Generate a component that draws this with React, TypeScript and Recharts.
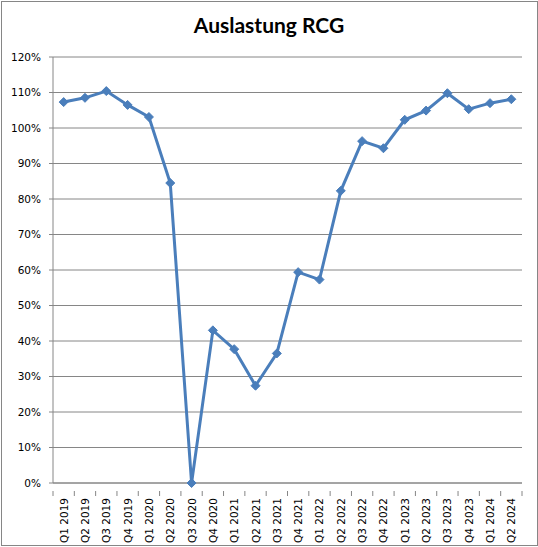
import { LineChart, Line, XAxis, YAxis, CartesianGrid } from 'recharts';

const quarters = [
    'Q1 2019', 'Q2 2019', 'Q3 2019', 'Q4 2019',
    'Q1 2020', 'Q2 2020', 'Q3 2020', 'Q4 2020',
    'Q1 2021', 'Q2 2021', 'Q3 2021', 'Q4 2021',
    'Q1 2022', 'Q2 2022', 'Q3 2022', 'Q4 2022',
    'Q1 2023', 'Q2 2023', 'Q3 2023', 'Q4 2023',
    'Q1 2024', 'Q2 2024',
];

const auslastung = [
    107.3, 108.5, 110.4, 106.5,
    103.1, 84.5, 0, 43.0,
    37.7, 27.4, 36.5, 59.4,
    57.3, 82.3, 96.3, 94.3,
    102.3, 104.9, 109.8, 105.3,
    107.0, 108.1,
];

const yTicks = [0, 10, 20, 30, 40, 50, 60, 70, 80, 90, 100, 110, 120];

const data = quarters.map((q, i) => ({ quarter: q, value: auslastung[i] }));

const AXIS_GRAY = '#868686';
const BLUE = '#4a7ebb';
const FONT = '"DejaVu Sans", sans-serif';

// plot spans x 53..522, so one category band is this wide
const BAND = (522 - 53) / quarters.length;

const QuarterTick = ({ x, y, payload, index }: any) => {
    const isLast = index === quarters.length - 1;
    return (
        <g>
            <line x1={x - BAND / 2} y1={y} x2={x - BAND / 2} y2={y + 5} stroke={AXIS_GRAY} />
            {isLast && (
                <line x1={x + BAND / 2} y1={y} x2={x + BAND / 2} y2={y + 5} stroke={AXIS_GRAY} />
            )}
            <text
                x={x}
                y={y + 7}
                transform={`rotate(-90, ${x}, ${y + 7})`}
                textAnchor="end"
                dominantBaseline="central"
                fontSize={10.5}
                fontFamily={FONT}
                fill="#000"
            >
                {payload.value}
            </text>
        </g>
    );
};

const Diamond = ({ cx, cy }: any) => {
    if (cx == null || cy == null) return null;
    const r = 4.5;
    return (
        <polygon
            points={`${cx},${cy - r} ${cx + r},${cy} ${cx},${cy + r} ${cx - r},${cy}`}
            fill={BLUE}
            stroke={BLUE}
            strokeWidth={1}
        />
    );
};

export default function App() {
    return (
        <div
            style={{
                position: 'fixed',
                left: 0,
                top: 0,
                width: 538,
                height: 547,
                background: '#fff',
            }}
        >
            <div
                style={{
                    position: 'absolute',
                    left: 1,
                    top: 1,
                    width: 535,
                    height: 543,
                    border: `1px solid ${AXIS_GRAY}`,
                }}
            />
            <div
                style={{
                    position: 'absolute',
                    left: 0,
                    top: 12,
                    width: 538,
                    textAlign: 'center',
                    fontFamily: 'Lato, sans-serif',
                    fontWeight: 700,
                    fontSize: 21,
                    lineHeight: '26px',
                    color: '#000',
                }}
            >
                Auslastung RCG
            </div>
            <div style={{ position: 'absolute', left: 0, top: 0 }}>
                <LineChart
                    width={538}
                    height={547}
                    data={data}
                    margin={{ top: 57, right: 16, bottom: 0, left: 0 }}
                >
                    <CartesianGrid vertical={false} stroke={AXIS_GRAY} strokeWidth={1} />
                    <XAxis
                        dataKey="quarter"
                        interval={0}
                        height={64}
                        padding={{ left: BAND / 2, right: BAND / 2 }}
                        axisLine={{ stroke: AXIS_GRAY }}
                        tickLine={false}
                        tick={<QuarterTick />}
                    />
                    <YAxis
                        width={53}
                        domain={[0, 120]}
                        ticks={yTicks}
                        interval={0}
                        tickFormatter={(v: number) => `${v}%`}
                        axisLine={{ stroke: AXIS_GRAY }}
                        tickLine={{ stroke: AXIS_GRAY }}
                        tickSize={4}
                        tickMargin={8}
                        tick={{ fontSize: 10.5, fontFamily: FONT, fill: '#000' }}
                    />
                    <Line
                        type="linear"
                        dataKey="value"
                        stroke={BLUE}
                        strokeWidth={3}
                        dot={<Diamond />}
                        activeDot={false}
                        isAnimationActive={false}
                    />
                </LineChart>
            </div>
        </div>
    );
}
